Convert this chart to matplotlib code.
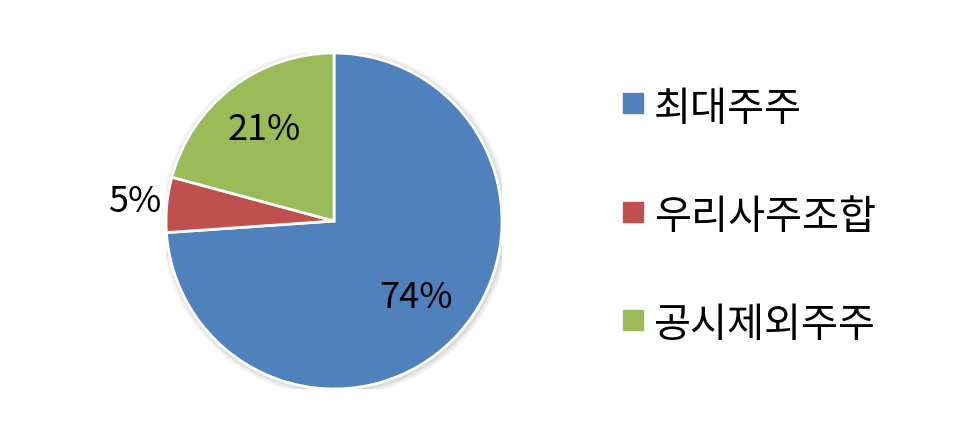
import numpy as np
import matplotlib
matplotlib.use("Agg")
from matplotlib import pyplot as plt
from matplotlib.patches import Circle

plt.rcParams['font.family'] = ['Noto Sans CJK KR', 'DejaVu Sans']

labels = ['최대주주', '우리사주조합', '공시제외주주']
values = [73.9, 5.3, 20.8]
colors = ['#4F81BD', '#C0504D', '#9BBB59']

W, H = 963, 441
cx, cy, r = 334, 221, 168

fig = plt.figure(figsize=(W / 100, H / 100), dpi=100)
ax = fig.add_axes([(cx - r) / W, (H - cy - r) / H, 2 * r / W, 2 * r / H])

# faint shadow around the pie
for k, a in enumerate([0.06, 0.05, 0.04]):
    ax.add_patch(Circle((0.008, -0.008), 1.0 + 0.012 * (k + 1), color='#000000',
                        alpha=a, lw=0, zorder=0))

wedges, _ = ax.pie(values, colors=colors, startangle=90, counterclock=False,
                   radius=1.0, wedgeprops=dict(edgecolor='white', linewidth=2),
                   frame=True)
ax.set_xlim(-1, 1)
ax.set_ylim(-1, 1)
ax.set_aspect('equal')
ax.axis('off')

dists = [0.67, 1.19, 0.68]
for w, v, d in zip(wedges, values, dists):
    ang = np.deg2rad((w.theta1 + w.theta2) / 2)
    ax.text(d * np.cos(ang), d * np.sin(ang), f'{v:.0f}%', ha='center', va='center',
            fontsize=26, fontweight='light', color='black', clip_on=False)

# legend
for i, (lab, c) in enumerate(zip(labels, colors)):
    y = 103 + i * 108.5
    fig.patches.append(plt.Rectangle((623 / W, (H - y - 10) / H), 20 / W, 20 / H,
                                     transform=fig.transFigure, color=c, figure=fig))
    fig.text(654 / W, (H - y - 6) / H, lab, ha='left', va='center', fontsize=29,
             fontweight='light', color='black')

fig.savefig('out.png', dpi=100, facecolor='white')
